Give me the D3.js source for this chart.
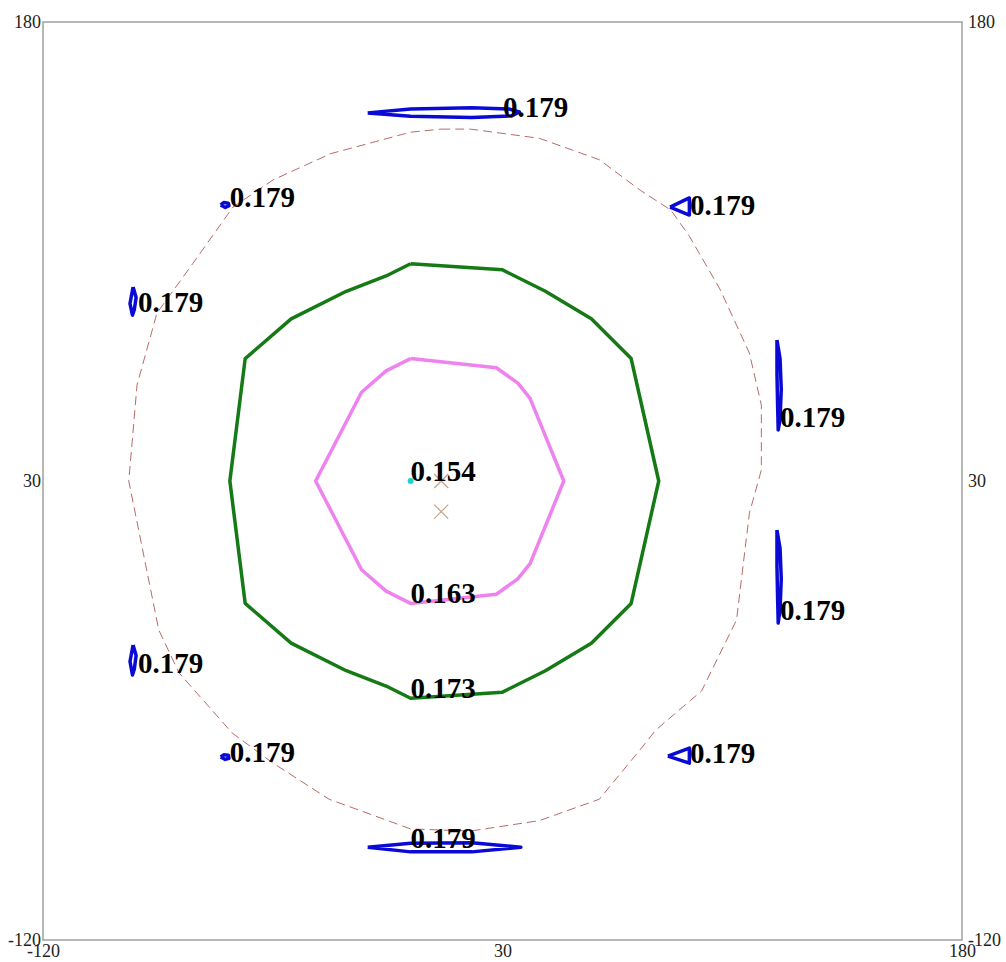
<!DOCTYPE html>
<html>
<head>
<meta charset="utf-8">
<script src="https://cdn.jsdelivr.net/npm/d3@7"></script>
<style>
  html, body { margin: 0; padding: 0; background: #fff; }
  svg { display: block; }
</style>
</head>
<body>
<svg id="chart" width="1006" height="962"></svg>
<script>
// ---- data (data units) ----
const xDomain = [-120, 180];
const yDomain = [-120, 180];
const xTicks = [-120, 30, 180];
const yTicks = [-120, 30, 180];

const contour163 = [[0,70],[28,67],[35,62],[39,57],[50,30],[39,3],[35,-2],[28,-7],[0,-10],[-8,-6],[-16,1],[-31,30],[-16,59],[-8,66],[0,70]];
const contour173 = [[0,101],[30,99],[44,92],[59,83],[72,70],[81,30],[72,-10],[59,-23],[44,-32],[30,-39],[0,-41],[-8,-37],[-21,-32],[-39,-23],[-54,-10],[-59,30],[-54,70],[-39,83],[-21,92],[-8,97],[0,101]];
const contourDashed = [[10,145],[19.5,145],[42,142],[61.6,135],[75,125],[85,118.5],[91,110],[101,92.7],[110.6,71.8],[114.5,54.8],[114.5,33.6],[110.6,19.5],[106.4,-15.4],[95,-38.6],[80,-51.4],[75.6,-57],[61.6,-74],[42,-81],[19.5,-84.4],[0,-83.7],[-26.6,-74],[-45.2,-62],[-58.3,-52.3],[-75.6,-32.7],[-82.2,-18.7],[-92,30],[-89.3,61.4],[-82.8,84.9],[-71,101.2],[-58,119.5],[-44.9,128.4],[-26,137],[0,144],[10,145]];

const blueTop = [[-14,150.3],[0,151.6],[20,152],[32,151.6],[35.5,150.6],[33,149.3],[20,148.8],[0,149.2],[-14,150.3]];
const blueBottom = [[-14,-89.7],[0,-88.4],[20,-88.2],[36,-89.7],[20,-91.2],[0,-91.2],[-14,-89.7]];
const blueTL = [[-62,120.2],[-61,121],[-59.5,120.8],[-59.3,120],[-60.5,119.4],[-62,120.2]];
const blueBL = [[-62,-60.2],[-61,-59.5],[-59.5,-59.6],[-59.3,-60.6],[-60.5,-61],[-62,-60.2]];
const blueL1 = [[-90.6,93.4],[-89.6,90],[-90.2,86],[-90.8,84.2],[-91.6,88],[-90.6,93.4]];
const blueL2 = [[-90.6,-23.6],[-89.6,-27],[-90.2,-31.5],[-90.8,-33.4],[-91.6,-29],[-90.6,-23.6]];
const blueTR = [[84.7,119.5],[91,122.5],[91,116.9],[84.7,119.5]];
const blueBR = [[84,-59.9],[91,-57.3],[91,-62.2],[84,-59.9]];
const blueR1 = [[119.6,76.1],[120.6,70],[121,60],[120.6,50],[120,46.7],[119.8,55],[119.6,65],[119.6,76.1]];
const blueR2 = [[119.6,14],[120.6,8],[121,-2],[120.6,-12],[120,-16.4],[119.8,-8],[119.6,2],[119.6,14]];
const blueContours = [blueTop, blueBottom, blueTL, blueBL, blueL1, blueL2, blueTR, blueBR, blueR1, blueR2];

const labelTexts = ["0.154","0.163","0.173","0.179","0.179","0.179","0.179","0.179","0.179","0.179","0.179","0.179","0.179"];
const labelX = [0, 0, 0, 30.2, 0, -59, -89, -89, -59, 91.2, 91.2, 120.6, 120.6];
const labelY = [30, -10, -41, 149, -90, 119.5, 85.2, -32.7, -61.8, 116.9, -62.2, 47.6, -15.4];

const crossPoints = [[10,30],[10,20]];
const minPoint = [[0,30]];

// ---- drawing ----
const svg = d3.select("#chart");
const padL = 43, padR = 962, padT = 22, padB = 940;
const x = d3.scaleLinear().domain(xDomain).range([padL, padR]);
const y = d3.scaleLinear().domain(yDomain).range([padB, padT]);

// frame
svg.append("rect")
  .attr("x", padL).attr("y", padT)
  .attr("width", padR - padL).attr("height", padB - padT)
  .attr("fill", "none").attr("stroke", "#a0a0a0").attr("stroke-width", 1.5);

const fmt = d => String(d);
function styleAxis(g) {
  g.select(".domain").remove();
  g.selectAll("line").remove();
  g.selectAll("text")
    .attr("font-family", "'Liberation Serif', 'Times New Roman', serif")
    .attr("font-size", 18)
    .attr("fill", "#222");
}
svg.append("g").attr("transform", `translate(${padL},0)`)
  .call(d3.axisLeft(y).tickValues(yTicks).tickSize(0).tickPadding(2).tickFormat(fmt))
  .call(styleAxis);
svg.append("g").attr("transform", `translate(${padR},0)`)
  .call(d3.axisRight(y).tickValues(yTicks).tickSize(0).tickPadding(6).tickFormat(fmt))
  .call(styleAxis);
svg.append("g").attr("transform", `translate(0,${padB})`)
  .call(d3.axisBottom(x).tickValues(xTicks).tickSize(0).tickPadding(4).tickFormat(fmt))
  .call(styleAxis);

const line = d3.line().x(d => x(d[0])).y(d => y(d[1]));

svg.append("path").datum(contourDashed)
  .attr("d", line).attr("fill", "none")
  .attr("stroke", "#b86a6a").attr("stroke-width", 1)
  .attr("stroke-dasharray", "9,5");

svg.append("path").datum(contour173)
  .attr("d", line).attr("fill", "none")
  .attr("stroke", "#157a15").attr("stroke-width", 3.5).attr("stroke-linejoin", "round");

svg.append("path").datum(contour163)
  .attr("d", line).attr("fill", "none")
  .attr("stroke", "#ee82ee").attr("stroke-width", 3.5).attr("stroke-linejoin", "round");

svg.selectAll("path.blue").data(blueContours).enter().append("path")
  .attr("class", "blue")
  .attr("d", line).attr("fill", "none")
  .attr("stroke", "#0a0ad6").attr("stroke-width", 3.5).attr("stroke-linejoin", "round");

// cross markers
const cs = 7;
crossPoints.forEach(p => {
  const cx = x(p[0]), cy = y(p[1]);
  svg.append("path")
    .attr("d", `M${cx-cs},${cy-cs}L${cx+cs},${cy+cs}M${cx-cs},${cy+cs}L${cx+cs},${cy-cs}`)
    .attr("stroke", "#c8a088").attr("stroke-width", 1.2).attr("fill", "none");
});

// min point
svg.selectAll("circle.min").data(minPoint).enter().append("circle")
  .attr("class", "min")
  .attr("cx", d => x(d[0])).attr("cy", d => y(d[1])).attr("r", 3)
  .attr("fill", "#20d0d0");

// labels
svg.selectAll("text.lbl").data(labelTexts).enter().append("text")
  .attr("class", "lbl")
  .attr("x", (d, i) => x(labelX[i]))
  .attr("y", (d, i) => y(labelY[i]))
  .attr("font-family", "'Liberation Serif', 'Times New Roman', serif")
  .attr("font-weight", "bold")
  .attr("font-size", 29)
  .attr("fill", "#000")
  .text(d => d);
</script>
</body>
</html>
